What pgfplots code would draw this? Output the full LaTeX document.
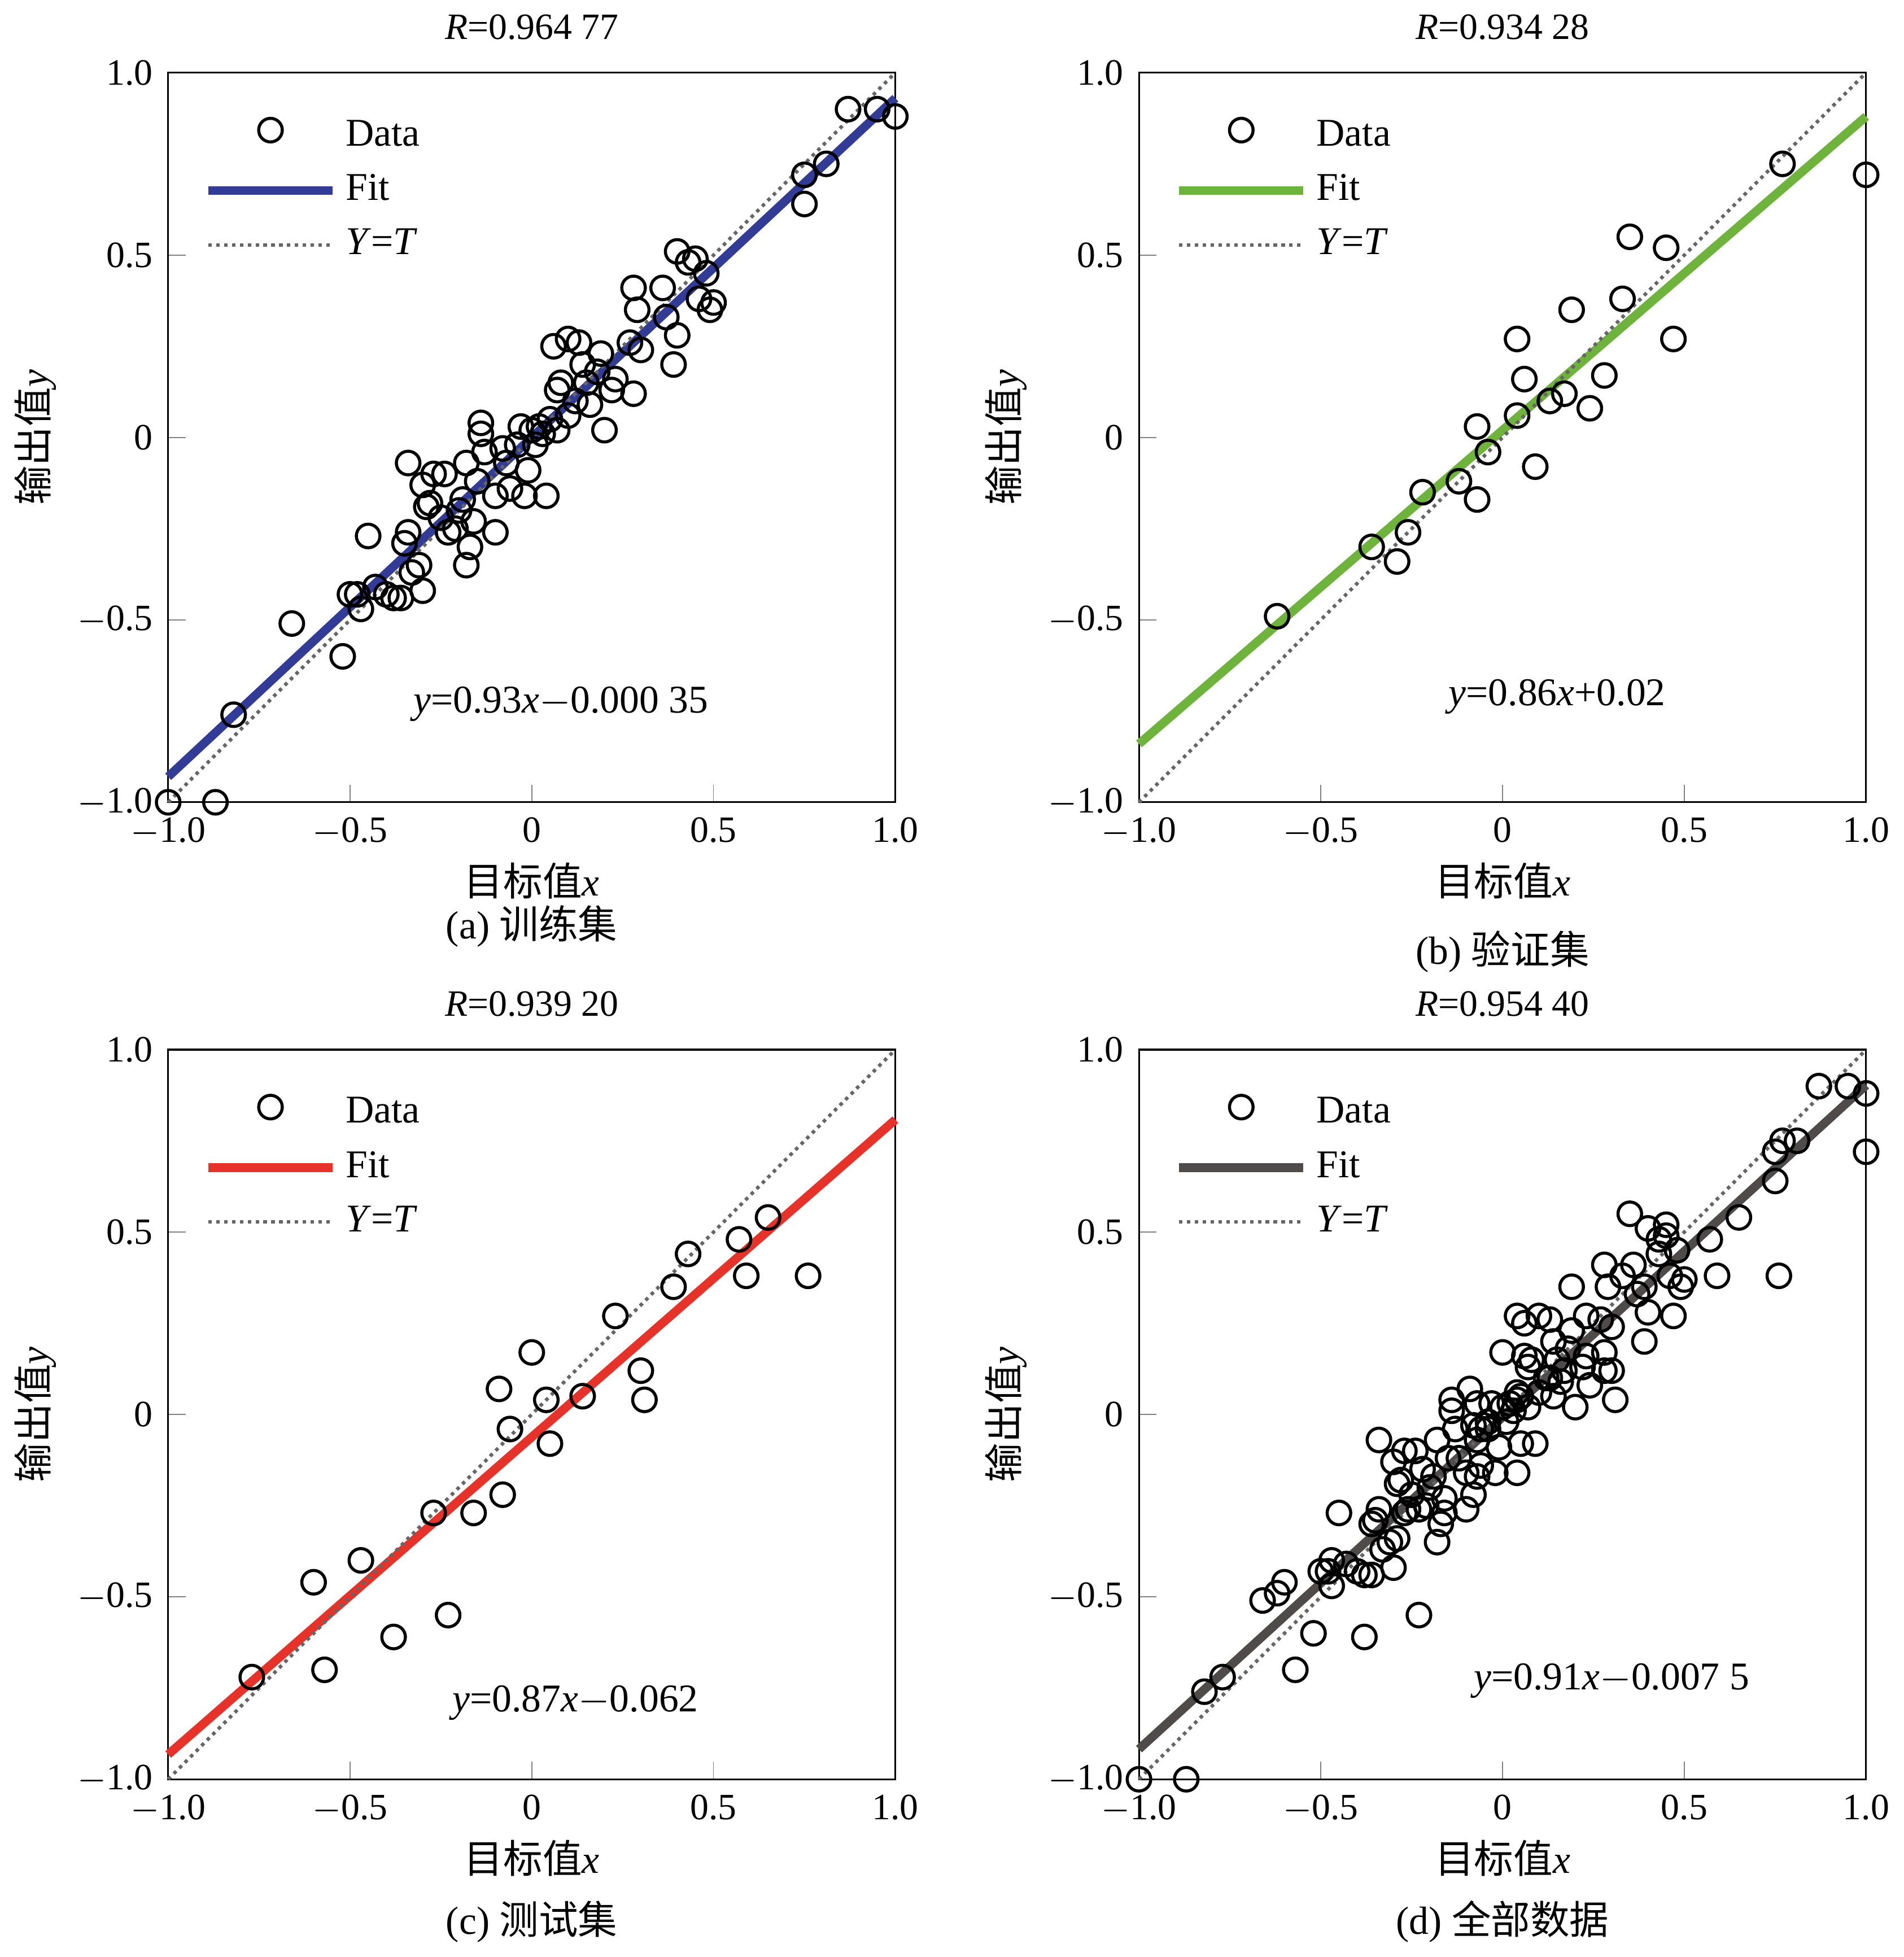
\documentclass[border=0pt]{standalone}
\usepackage{pgfplots}
\pgfplotsset{compat=1.18}
\usepackage{pgfplotstable}
\usepackage{fontspec}
\setmainfont{Liberation Serif}
\newfontfamily\cjk{Noto Sans CJK SC}
\definecolor{cA}{RGB}{50,60,150}
\definecolor{cB}{RGB}{110,180,60}
\definecolor{cC}{RGB}{230,50,40}
\definecolor{cD}{RGB}{80,75,75}
\tikzset{note/.style={font=\fontsize{9}{11}\selectfont}}
\pgfplotstableread{
x y
-1.0 -1.0
-0.87 -1.0
-0.82 -0.76
-0.66 -0.51
-0.52 -0.6
-0.5 -0.43
-0.48 -0.43
-0.47 -0.47
-0.45 -0.27
-0.43 -0.41
-0.4 -0.43
-0.38 -0.44
-0.36 -0.44
-0.35 -0.29
-0.34 -0.26
-0.34 -0.07
-0.33 -0.37
-0.31 -0.35
-0.3 -0.42
-0.3 -0.13
-0.29 -0.19
-0.28 -0.18
-0.27 -0.1
-0.25 -0.22
-0.24 -0.1
-0.23 -0.26
-0.21 -0.25
-0.2 -0.2
-0.19 -0.17
-0.18 -0.07
-0.18 -0.35
-0.17 -0.3
-0.16 -0.23
-0.15 -0.12
-0.14 0.04
-0.14 0.01
-0.13 -0.04
-0.1 -0.26
-0.1 -0.16
-0.08 -0.03
-0.07 -0.07
-0.06 -0.14
-0.04 -0.02
-0.03 0.03
-0.02 -0.16
-0.01 -0.09
0 0.02
0.01 -0.02
0.02 0.03
0.03 0.01
0.04 -0.16
0.05 0.05
0.06 0.25
0.07 0.02
0.07 0.13
0.08 0.15
0.1 0.27
0.1 0.06
0.12 0.1
0.13 0.26
0.14 0.2
0.15 0.15
0.16 0.09
0.18 0.18
0.19 0.23
0.2 0.02
0.22 0.13
0.23 0.16
0.27 0.26
0.28 0.41
0.28 0.12
0.29 0.35
0.3 0.24
0.36 0.41
0.37 0.33
0.39 0.2
0.4 0.28
0.4 0.51
0.43 0.48
0.45 0.49
0.46 0.38
0.48 0.45
0.49 0.35
0.5 0.37
0.75 0.72
0.75 0.64
0.81 0.75
0.87 0.9
0.95 0.9
1.0 0.88
}\tA
\pgfplotstableread{
x y
-0.62 -0.49
-0.36 -0.3
-0.29 -0.34
-0.26 -0.26
-0.22 -0.15
-0.12 -0.12
-0.07 -0.17
-0.07 0.03
-0.04 -0.04
0.04 0.06
0.04 0.27
0.06 0.16
0.09 -0.08
0.13 0.1
0.17 0.12
0.19 0.35
0.24 0.08
0.28 0.17
0.33 0.38
0.35 0.55
0.45 0.52
0.47 0.27
0.77 0.75
1.0 0.72
}\tB
\pgfplotstableread{
x y
-0.77 -0.72
-0.6 -0.46
-0.57 -0.7
-0.47 -0.4
-0.38 -0.61
-0.27 -0.27
-0.23 -0.55
-0.16 -0.27
-0.09 0.07
-0.08 -0.22
-0.06 -0.04
0 0.17
0.04 0.04
0.05 -0.08
0.14 0.05
0.23 0.27
0.3 0.12
0.31 0.04
0.39 0.35
0.43 0.44
0.57 0.48
0.59 0.38
0.65 0.54
0.76 0.38
}\tC
\pgfplotsset{
  pan/.style={
    width=58.5mm, height=58.7mm, scale only axis,
    xmin=-1, xmax=1, ymin=-1, ymax=1,
    xtick={-1,-0.5,0,0.5,1}, ytick={-1,-0.5,0,0.5,1},
    xticklabels={$-$1.0,$-$0.5,0,0.5,1.0},
    yticklabels={$-$1.0,$-$0.5,0,0.5,1.0},
    tick align=inside, tick pos=left,
    major tick length=4pt,
    ticklabel style={font=\fontsize{8.5}{10}\selectfont},
    label style={font=\fontsize{9}{11}\selectfont},
    title style={font=\fontsize{8.5}{10}\selectfont, yshift=-2pt},
    xlabel={{\cjk 目标值}\textit{x}},
    ylabel={{\cjk 输出值}\textit{y}},
    xlabel style={yshift=3pt},
    ylabel style={yshift=-2pt},
    legend style={draw=none, fill=none, at={(0.03,0.96)}, anchor=north west,
      font=\fontsize{9}{11}\selectfont, row sep=1pt},
    legend cell align=left,
    legend image code/.code={\draw[#1] (0cm,0cm) -- (1.0cm,0cm);},
    clip=false,
  },
  dat/.style={only marks, mark=o, mark size=2.7pt, mark options={line width=0.7pt, black},
    legend image code/.code={\draw[black, line width=0.7pt] (0.5cm,0.05cm) circle (2.7pt);}},
  yt/.style={densely dotted, gray!80!black, line width=0.8pt},
}
\begin{document}
\begin{tikzpicture}
% (a)
\begin{axis}[pan, at={(13.7mm,91.8mm)}, title={\textit{R}=0.964 77}]
\addplot[dat] table {\tA};
\addplot[cA, line width=2pt] coordinates {(-1,-0.93) (1,0.93)};
\addplot[yt] coordinates {(-1,-1) (1,1)};
\legend{Data,Fit,\textit{Y}=\textit{T}}
\node[note] at (axis cs:0.08,-0.73) {\textit{y}=0.93\textit{x}$-$0.000 35};
\node[note] at (axis cs:0,-1.34) {(a) {\cjk 训练集}};
\end{axis}
% (b)
\begin{axis}[pan, at={(91.8mm,91.8mm)}, title={\textit{R}=0.934 28}]
\addplot[dat] table {\tB};
\addplot[cB, line width=2pt] coordinates {(-1,-0.84) (1,0.88)};
\addplot[yt] coordinates {(-1,-1) (1,1)};
\legend{Data,Fit,\textit{Y}=\textit{T}}
\node[note] at (axis cs:0.15,-0.71) {\textit{y}=0.86\textit{x}+0.02};
\node[note] at (axis cs:0,-1.41) {(b) {\cjk 验证集}};
\end{axis}
% (c)
\begin{axis}[pan, at={(13.7mm,13.2mm)}, title={\textit{R}=0.939 20}]
\addplot[dat] table {\tC};
\addplot[cC, line width=2pt] coordinates {(-1,-0.932) (1,0.808)};
\addplot[yt] coordinates {(-1,-1) (1,1)};
\legend{Data,Fit,\textit{Y}=\textit{T}}
\node[note] at (axis cs:0.12,-0.79) {\textit{y}=0.87\textit{x}$-$0.062};
\node[note] at (axis cs:0,-1.39) {(c) {\cjk 测试集}};
\end{axis}
% (d)
\begin{axis}[pan, at={(91.8mm,13.2mm)}, title={\textit{R}=0.954 40}]
\addplot[dat] table {\tA};
\addplot[cD, line width=2pt] coordinates {(-1,-0.9175) (1,0.9025)};
\addplot[yt] coordinates {(-1,-1) (1,1)};
\addplot[dat, forget plot] table {\tB};
\addplot[dat, forget plot] table {\tC};
\legend{Data,Fit,\textit{Y}=\textit{T}}
\node[note] at (axis cs:0.3,-0.73) {\textit{y}=0.91\textit{x}$-$0.007 5};
\node[note] at (axis cs:0,-1.39) {(d) {\cjk 全部数据}};
\end{axis}
\end{tikzpicture}
\end{document}
